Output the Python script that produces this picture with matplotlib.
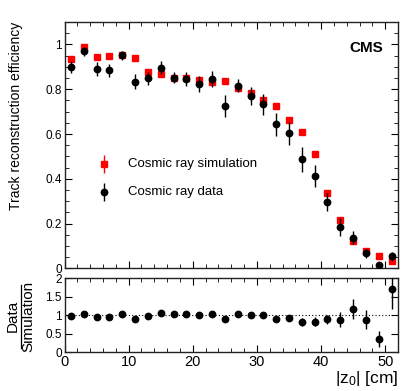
import matplotlib
matplotlib.use("Agg")
import matplotlib.pyplot as plt
from matplotlib.ticker import MultipleLocator, NullLocator
from matplotlib.lines import Line2D

plt.rcParams['font.family'] = ['Liberation Sans', 'DejaVu Sans']
plt.rcParams['mathtext.fontset'] = 'custom'
plt.rcParams['mathtext.rm'] = 'Liberation Sans'
plt.rcParams['mathtext.it'] = 'Liberation Sans'

z = [1, 3, 5, 7, 9, 11, 13, 15, 17, 19, 21, 23, 25, 27, 29, 31, 33, 35, 37, 39, 41, 43, 45, 47, 49, 51]
sim = [0.936, 0.988, 0.942, 0.948, 0.953, 0.939, 0.879, 0.870, 0.852, 0.849, 0.839, 0.832,
       0.835, 0.804, 0.785, 0.750, 0.726, 0.662, 0.607, 0.512, 0.339, 0.217, 0.122, 0.077, 0.058, 0.033]
sim_err = [0.005] * 26
data = [0.899, 0.970, 0.892, 0.884, 0.951, 0.834, 0.849, 0.896, 0.852, 0.846, 0.824, 0.847,
        0.726, 0.816, 0.769, 0.732, 0.643, 0.603, 0.487, 0.412, 0.296, 0.186, 0.138, 0.067, 0.016, 0.054]
data_err = [0.025, 0.02, 0.031, 0.028, 0.02, 0.035, 0.03, 0.028, 0.025, 0.03, 0.035, 0.035,
            0.05, 0.03, 0.04, 0.045, 0.05, 0.05, 0.055, 0.05, 0.04, 0.04, 0.03, 0.02, 0.015, 0.02]
ratio = [0.97, 1.04, 0.955, 0.95, 1.02, 0.90, 0.98, 1.05, 1.02, 1.02, 1.0, 1.04,
         0.88, 1.04, 1.0, 1.0, 0.90, 0.92, 0.82, 0.82, 0.88, 0.875, 1.15, 0.875, 0.35, 1.70]
ratio_err = [0.04, 0.03, 0.04, 0.04, 0.03, 0.05, 0.04, 0.04, 0.04, 0.04, 0.05, 0.05,
             0.07, 0.05, 0.06, 0.07, 0.08, 0.08, 0.11, 0.12, 0.12, 0.2, 0.27, 0.25, 0.22, 0.55]

fig = plt.figure(figsize=(4.07, 3.91), dpi=100)
ax = fig.add_axes([0.1585, 0.3133, 0.8195, 0.6304])
axr = fig.add_axes([0.1585, 0.0997, 0.8195, 0.1893])

ms = 4.6
ax.errorbar(z, sim, yerr=sim_err, fmt='s', color='#ff0000', ms=ms, elinewidth=1,
            capsize=0, zorder=3)
ax.errorbar(z, data, yerr=data_err, fmt='o', color='black', ms=ms, elinewidth=1,
            capsize=0, zorder=4)
ax.set_xlim(0, 52)
ax.set_ylim(0, 1.1)
ax.set_ylabel('Track reconstruction efficiency', fontsize=10, loc='top')
ax.yaxis.set_label_coords(-0.125, 1.0)
ax.text(0.955, 0.895, 'CMS', transform=ax.transAxes, fontsize=11, fontweight='bold',
        ha='right', va='center')

# legend drawn in ROOT style
lx = 0.118
for y, color, mk, lab in [(0.424, '#ff0000', 's', 'Cosmic ray simulation'),
                          (0.310, 'black', 'o', 'Cosmic ray data')]:
    ax.errorbar([lx], [y], yerr=[0.035], fmt=mk, color=color, ms=ms, elinewidth=1, capsize=0,
                transform=ax.transAxes, clip_on=False)
    ax.text(0.19, y, lab, transform=ax.transAxes, fontsize=9.5, va='center', ha='left')

axr.errorbar(z, ratio, yerr=ratio_err, fmt='o', color='black', ms=ms, elinewidth=1, capsize=0, zorder=3)
axr.axhline(1.0, color='black', linestyle=(0, (1, 2)), linewidth=0.8, zorder=1)
axr.set_xlim(0, 52)
axr.set_ylim(0, 2)
axr.set_xlabel(r'|z$_{0}$| [cm]', fontsize=12.5, loc='right', labelpad=0)

for a in (ax, axr):
    a.xaxis.set_major_locator(MultipleLocator(10))
    a.xaxis.set_minor_locator(MultipleLocator(2))
    a.tick_params(which='both', direction='in', top=True, right=True, labelsize=8.5, pad=2)
    a.tick_params(which='major', length=5)
    a.tick_params(which='minor', length=2.6)
    for s in a.spines.values():
        s.set_linewidth(1.0)
        s.set_color('#222222')
ax.yaxis.set_major_locator(MultipleLocator(0.2))
ax.yaxis.set_minor_locator(MultipleLocator(0.05))
ax.set_yticks([0, 0.2, 0.4, 0.6, 0.8, 1.0])
ax.set_yticklabels(['0', '0.2', '0.4', '0.6', '0.8', '1'])
ax.set_xticklabels([])
axr.yaxis.set_minor_locator(NullLocator())
axr.set_yticks([0, 0.5, 1, 1.5, 2])
axr.set_yticklabels(['0', '0.5', '1', '1.5', '2'])
axr.set_xticks([0, 10, 20, 30, 40, 50])
axr.set_xticklabels(['0', '10', '20', '30', '40', '50'], fontsize=10.5)

# Data / Simulation fraction label
fig.text(13 / 407, 1 - 316 / 391, 'Data', rotation=90, fontsize=11, ha='center', va='center')
fig.text(28.5 / 407, 1 - 316 / 391, 'Simulation', rotation=90, fontsize=11, ha='center', va='center')
fig.add_artist(Line2D([20.5 / 407, 20.5 / 407], [1 - 285 / 391, 1 - 348 / 391], color='black', lw=0.9))

fig.savefig('out.png', dpi=100)
